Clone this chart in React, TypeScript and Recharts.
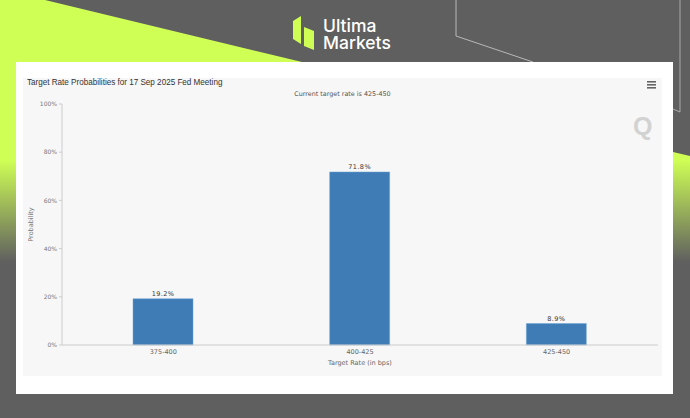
import { BarChart, Bar, XAxis, YAxis, LabelList } from "recharts"

const categories = ["375-400", "400-425", "425-450"]
const probabilities = [19.2, 71.8, 8.9]
const yTicks = [0, 20, 40, 60, 80, 100]

const tableData = categories.map((name, i) => ({ name, value: probabilities[i] }))

const LIME = "#cfff55"
const TICK = { fontFamily: "'DejaVu Sans'", fontSize: 6.5, fill: "#666" }

export default function App() {
  return (
    <div style={{ position: "absolute", left: 0, top: 0, width: 690, height: 418, background: "#5f5f5f", overflow: "hidden" }}>
      {/* backdrop */}
      <svg width={690} height={418} style={{ position: "absolute", left: 0, top: 0 }}>
        <defs>
          <linearGradient id="fade" gradientUnits="userSpaceOnUse" x1="0" y1="160" x2="0" y2="262">
            <stop offset="0" stopColor={LIME} />
            <stop offset="1" stopColor="#5f5f5f" />
          </linearGradient>
        </defs>
        <polygon points="45,0 302,62 302,70 16,70 16,262 0,262 0,0" fill="url(#fade)" />
        <polygon points="673,152 690,156 690,262 673,262" fill="url(#fade)" />
        <polyline points="456,0 456,36 533,62" fill="none" stroke="#cfcfcf" strokeWidth={0.8} />
        <polyline points="673,109 680,112 680,0" fill="none" stroke="#bdbdbd" strokeWidth={0.8} />
        <polygon points="293,21 301,16 301,44 293,39" fill={LIME} />
        <polygon points="304,27 314,31 314,50 304,46" fill={LIME} />
        <text x={323} y={32} fontFamily="Inter" fontWeight={500} fontSize={17.5} fill="#fff">Ultima</text>
        <text x={323} y={49} fontFamily="Inter" fontWeight={500} fontSize={17.5} fill="#fff">Markets</text>
      </svg>

      <div style={{ position: "absolute", left: 16, top: 62, width: 657, height: 332, background: "#fff" }} />
      <div style={{ position: "absolute", left: 23, top: 78, width: 639, height: 298, background: "#f7f7f7" }}>
        <div style={{ position: "absolute", left: 4, top: -1, fontFamily: "'Liberation Sans'", fontSize: 9, lineHeight: "11px", color: "#333", whiteSpace: "nowrap", transform: "scaleX(0.9)", transformOrigin: "left" }}>
          Target Rate Probabilities for 17 Sep 2025 Fed Meeting
        </div>
        <div style={{ position: "absolute", left: 0, width: 639, top: 12, textAlign: "center", fontFamily: "'DejaVu Sans'", fontSize: 6.4, lineHeight: "9px", color: "#555" }}>
          Current target rate is 425-450
        </div>
        <svg width={12} height={10} style={{ position: "absolute", left: 623, top: 2 }}>
          <rect x={1} y={1} width={9} height={1.6} fill="#666" />
          <rect x={1} y={4} width={9} height={1.6} fill="#666" />
          <rect x={1} y={7} width={9} height={1.6} fill="#666" />
        </svg>
        <div style={{ position: "absolute", left: 610, top: 33, fontFamily: "'Liberation Sans'", fontWeight: 700, fontSize: 25, lineHeight: "30px", color: "#d2d2d2" }}>Q</div>

        <div style={{ position: "absolute", left: 0, top: 0 }}>
          <BarChart width={639} height={298} data={tableData} margin={{ top: 26, right: 4, bottom: 0, left: 0 }} barSize={60}>
            <XAxis
              dataKey="name"
              padding={{ left: 3, right: 3 }}
              tick={TICK}
              tickLine={false}
              axisLine={{ stroke: "#ccc" }}
              height={31}
              tickSize={4}
              tickMargin={0}
              label={{ value: "Target Rate (in bps)", position: "insideBottom", offset: 11, style: { ...TICK, fill: "#666" } }}
            />
            <YAxis
              domain={[0, 100]}
              ticks={yTicks}
              interval={0}
              tickFormatter={(v: number) => `${v}%`}
              tick={{ ...TICK, fontSize: 6, fill: "#777" }}
              tickSize={3}
              tickLine={{ stroke: "#ccc" }}
              axisLine={{ stroke: "#ccc" }}
              width={39}
              label={{ value: "Probability", angle: -90, position: "insideLeft", offset: 8, style: { ...TICK, fill: "#777", textAnchor: "middle" } }}
            />
            <Bar dataKey="value" fill="#3f7cb6" stroke="#6fa6d6" strokeWidth={0.5} isAnimationActive={false}>
              <LabelList dataKey="value" position="top" offset={3} formatter={(v: number) => `${v}%`} style={{ ...TICK, fill: "#333", letterSpacing: 0.4 }} />
            </Bar>
          </BarChart>
        </div>
      </div>
    </div>
  )
}
